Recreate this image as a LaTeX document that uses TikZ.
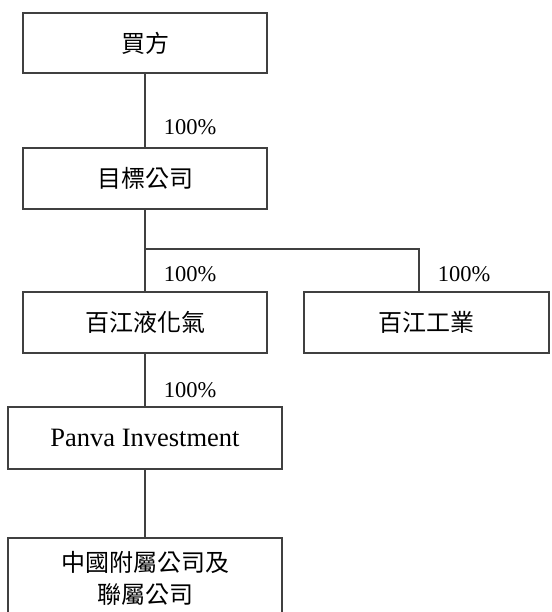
\documentclass[tikz,border=0pt]{standalone}
\usepackage{fontspec}
\setmainfont{Liberation Serif}
\newfontfamily\cjk{Noto Sans CJK TC}
\usetikzlibrary{positioning,calc}
\definecolor{linegray}{rgb}{0.25, 0.25, 0.25}

\begin{document}
\begin{tikzpicture}[x=1pt,y=-1pt,thick,
                co box/.style={rectangle,draw=linegray,line width=1.1pt,inner sep=0pt,
                  font=\fontsize{24}{32}\selectfont\cjk,align=center},
                pct/.style={text=black,font=\fontsize{22.5}{26}\selectfont,right=15pt}]
\useasboundingbox (0,0) rectangle (551,612);
%Nodes
    \node[co box, minimum width=244pt, minimum height=60pt] (buyer) at (145,43) {買方};
    \node[co box, minimum width=244pt, minimum height=61pt] (target) at (145,178.5) {目標公司};
    \node[co box, minimum width=244pt, minimum height=61pt] (lpg) at (145,322.5) {百江液化氣};
    \node[co box, minimum width=245pt, minimum height=61pt] (ind) at (426.5,322.5) {百江工業};
    \node[co box, minimum width=274pt, minimum height=62pt, font=\fontsize{26.5}{30}\selectfont] (panva) at (145,438) {Panva Investment};
    \node[co box, minimum width=274pt, minimum height=80pt] (assoc) at (145,578) {中國附屬公司及\\聯屬公司};
    \coordinate (split) at (lpg.north |- 0,249);
    \coordinate (indtop) at ($(ind.north)+(-7.5,0)$);

    \draw[linegray, line width=1.1pt] (buyer) -- node[pct, pos=0.73] {100\%} (target);
    \draw[linegray, line width=1.1pt] (target) -- (split);
    \draw[linegray, line width=1.1pt] (split) -- node[pct, pos=0.6] {100\%} (lpg);
    \draw[linegray, line width=1.1pt] (split) -| node[pct, pos=0.8] {100\%} (indtop);
    \draw[linegray, line width=1.1pt] (lpg) -- node[pct, pos=0.69] {100\%} (panva);
    \draw[linegray, line width=1.1pt] (panva) -- (assoc);
\end{tikzpicture}
\end{document}
